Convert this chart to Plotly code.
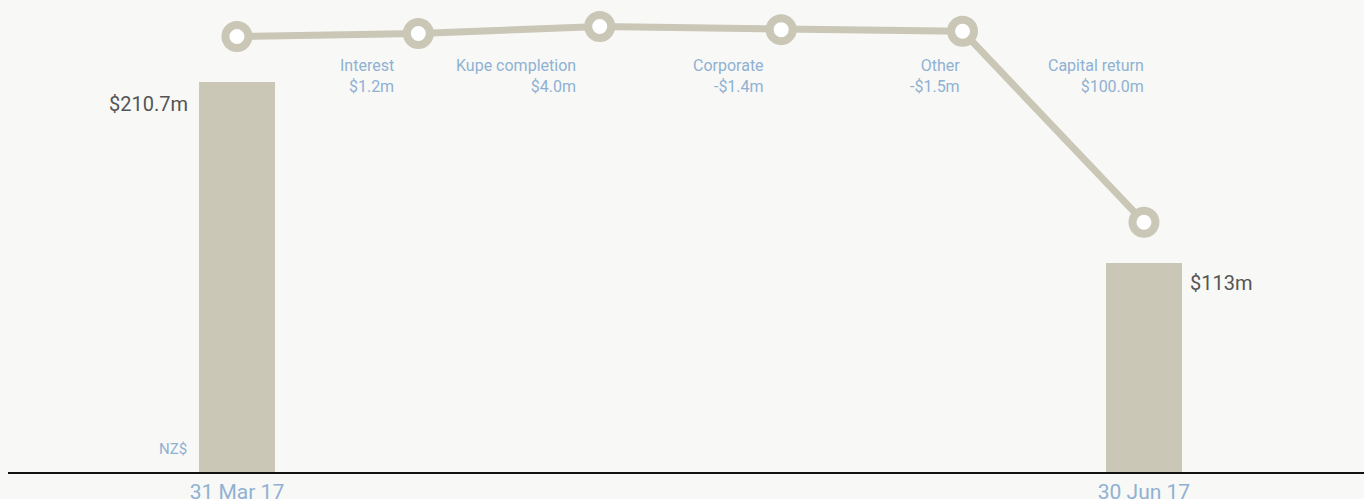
import plotly.graph_objects as go

# Data
bar_x = [0, 5]
bar_labels = ["31 Mar 17", "30 Jun 17"]
bar_values = [210.7, 113]
bar_texts = ["$210.7m", "$113m"]

line_x = [0, 1, 2, 3, 4, 5]
line_values = [235.0, 236.6, 240.4, 238.7, 237.8, 134.8]

step_names = ["Interest", "Kupe completion", "Corporate", "Other", "Capital return"]
step_amounts = ["$1.2m", "$4.0m", "-$1.4m", "-$1.5m", "$100.0m"]
step_x = [1, 2, 3, 4, 5]
step_shift = [-22, -22, -15, -1, 2]

BG = "#f8f8f6"
TAN = "#cac7b7"
BLUE = "#8fb1d3"
DARK = "#555555"
FONT = "Roboto"

fig = go.Figure()
fig.add_trace(go.Bar(x=bar_x, y=bar_values, width=0.42, marker=dict(color=TAN, line=dict(width=0)),
                     hoverinfo="skip", showlegend=False))
fig.add_trace(go.Scatter(x=line_x, y=line_values, mode="lines+markers",
                         line=dict(color=TAN, width=7),
                         marker=dict(size=23, color="white", line=dict(color=TAN, width=8)),
                         hoverinfo="skip", showlegend=False))

ann = []
for nm, amt, sx, sh in zip(step_names, step_amounts, step_x, step_shift):
    ann.append(dict(x=sx, y=line_values[0], xref="x", yref="y", text=nm + "<br>" + amt,
                    showarrow=False, xanchor="right", yanchor="top", align="right",
                    xshift=sh, yshift=-17, font=dict(family=FONT, size=16, color=BLUE)))
ann.append(dict(x=bar_x[0], y=bar_values[0], text=bar_texts[0], showarrow=False,
                xanchor="right", yanchor="middle", xshift=-47, yshift=-22,
                font=dict(family=FONT, size=20, color=DARK)))
ann.append(dict(x=bar_x[1], y=bar_values[1], text=bar_texts[1], showarrow=False,
                xanchor="left", yanchor="middle", xshift=44, yshift=-20,
                font=dict(family=FONT, size=20, color=DARK)))
ann.append(dict(x=bar_x[0], y=0, text="NZ$", showarrow=False,
                xanchor="right", yanchor="middle", xshift=-48, yshift=23,
                font=dict(family=FONT, size=15, color=BLUE)))

fig.update_layout(
    width=1364, height=499,
    margin=dict(l=8, r=0, t=0, b=27),
    paper_bgcolor=BG, plot_bgcolor=BG,
    annotations=ann,
    xaxis=dict(range=[-1.262, 6.213], tickvals=bar_x, ticktext=bar_labels, automargin=False,
               showgrid=False, zeroline=False, showline=True, linecolor="#111111", linewidth=1.5,
               ticks="", tickfont=dict(family=FONT, size=21, color=BLUE), fixedrange=True),
    yaxis=dict(range=[0, 254.7], visible=False, showgrid=False, fixedrange=True, automargin=False),
    bargap=0,
)
fig.write_html("out.html", config={"displayModeBar": False},
               post_script="document.body.style.margin='0';document.body.style.overflow='hidden';")
